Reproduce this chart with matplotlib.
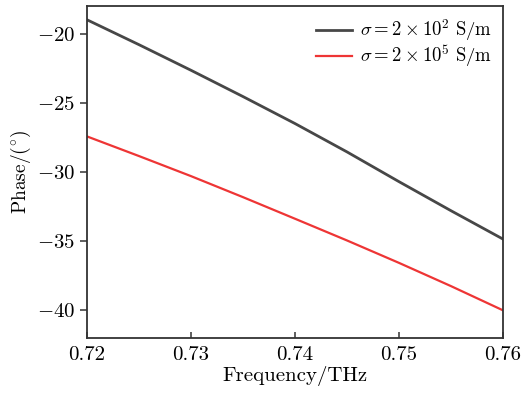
import matplotlib
matplotlib.use('Agg')
import matplotlib.pyplot as plt

plt.rcParams['font.family'] = 'serif'
plt.rcParams['font.serif'] = ['cmr10']
plt.rcParams['mathtext.fontset'] = 'cm'
plt.rcParams['axes.formatter.use_mathtext'] = True
plt.rcParams['axes.unicode_minus'] = True

# Frequenz (THz) und Phase (Grad)
freq = [0.72, 0.725, 0.73, 0.735, 0.74, 0.745, 0.75, 0.755, 0.76]
phase_low = [-19.0, -20.8, -22.65, -24.55, -26.5, -28.55, -30.7, -32.8, -34.85]
phase_high = [-27.43, -28.85, -30.3, -31.82, -33.38, -34.95, -36.57, -38.25, -40.0]
labels = [r'$\sigma = 2\times10^2\ \mathrm{S/m}$', r'$\sigma = 2\times10^5\ \mathrm{S/m}$']

fig = plt.figure(figsize=(5.22, 3.97), dpi=100)
ax = fig.add_axes([0.1667, 0.1486, 0.7969, 0.8364])

ax.plot(freq, phase_low, color='#474747', lw=2.0, label=labels[0])
ax.plot(freq, phase_high, color='#ee3535', lw=1.6, label=labels[1])

ax.set_xlim(0.72, 0.76)
ax.set_ylim(-42, -18)
ax.set_xticks([0.72, 0.73, 0.74, 0.75, 0.76])
ax.set_xticklabels(['0.72', '0.73', '0.74', '0.75', '0.76'])
ax.set_yticks([-40, -35, -30, -25, -20])

ax.tick_params(axis='x', direction='in', length=4, width=1.1, labelsize=15, pad=6, color='#333333')
ax.tick_params(axis='y', direction='out', length=5, width=1.1, labelsize=15, color='#333333')
for s in ax.spines.values():
    s.set_linewidth(1.3)
    s.set_color('#333333')

ax.set_xlabel('Frequency/THz', fontsize=15, labelpad=1)
ax.set_ylabel(r'Phase/$(^{\circ})$', fontsize=14, labelpad=3)

ax.legend(loc='upper right', frameon=False, fontsize=13.5, handlelength=1.9,
          handletextpad=0.4, labelspacing=0.0, borderaxespad=0.2)

fig.savefig('out.png', dpi=100)
